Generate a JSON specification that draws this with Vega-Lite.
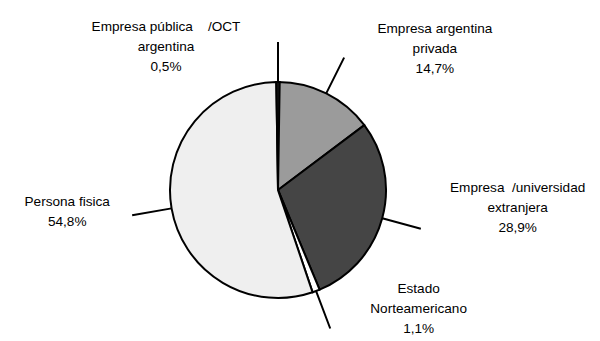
{
  "$schema": "https://vega.github.io/schema/vega-lite/v6.json",
  "width": 556,
  "height": 302,
  "autosize": "none",
  "padding": {"left": 0, "top": 39, "right": 44, "bottom": 0},
  "background": "white",
  "view": {"stroke": null},
  "config": {"text": {"font": "Liberation Sans", "fontSize": 13.6, "lineHeight": 20, "color": "black"}},
  "data": {
    "values": [
      {"category": "Empresa argentina privada", "pct": 14.7, "label": "Empresa argentina\nprivada\n14,7%"},
      {"category": "Empresa / universidad extranjera", "pct": 28.9, "label": "Empresa\u00a0\u00a0/universidad\nextranjera\n28,9%"},
      {"category": "Estado Norteamericano", "pct": 1.1, "label": "Estado\nNorteamericano\n1,1%"},
      {"category": "Persona fisica", "pct": 54.8, "label": "Persona fisica\n54,8%"},
      {"category": "Empresa pública / OCT argentina", "pct": 0.5, "label": "Empresa pública\u00a0\u00a0\u00a0\u00a0/OCT\nargentina\n0,5%"}
    ]
  },
  "transform": [
    {"stack": "pct", "groupby": [], "as": ["v0", "v1"]},
    {"fold": ["v0", "v1"], "as": ["k", "kv"]},
    {"aggregate": [{"op": "mean", "field": "kv", "as": "mid"}], "groupby": ["category", "pct", "label", "v0", "v1"]}
  ],
  "layer": [
    {
      "mark": {"type": "arc", "outerRadius": 108, "stroke": "black", "strokeWidth": 2},
      "encoding": {
        "theta": {"field": "v0", "type": "quantitative", "stack": null},
        "theta2": {"field": "v1"},
        "color": {
          "field": "category", "type": "nominal", "legend": null,
          "scale": {
            "domain": ["Empresa argentina privada", "Empresa / universidad extranjera", "Estado Norteamericano", "Persona fisica", "Empresa pública / OCT argentina"],
            "range": ["#9b9b9b", "#454545", "#ffffff", "#efefef", "#1a1a1a"]
          }
        }
      }
    },
    {
      "mark": {"type": "arc", "innerRadius": 108, "outerRadius": 148, "stroke": "black", "strokeWidth": 2, "fill": null},
      "encoding": {
        "theta": {"field": "mid", "type": "quantitative", "stack": null},
        "theta2": {"field": "mid"}
      }
    },
    {
      "transform": [{"filter": "datum.category == 'Empresa argentina privada'"}],
      "mark": {"type": "text", "radius": 152, "dx": 89, "dy": -25, "align": "center", "baseline": "middle", "lineBreak": "\n"},
      "encoding": {"theta": {"field": "mid", "type": "quantitative", "stack": null}, "text": {"field": "label"}}
    },
    {
      "transform": [{"filter": "datum.category == 'Empresa / universidad extranjera'"}],
      "mark": {"type": "text", "radius": 152, "dx": 93, "dy": -42, "align": "center", "baseline": "middle", "lineBreak": "\n"},
      "encoding": {"theta": {"field": "mid", "type": "quantitative", "stack": null}, "text": {"field": "label"}}
    },
    {
      "transform": [{"filter": "datum.category == 'Estado Norteamericano'"}],
      "mark": {"type": "text", "radius": 152, "dx": 87, "dy": -43, "align": "center", "baseline": "middle", "lineBreak": "\n"},
      "encoding": {"theta": {"field": "mid", "type": "quantitative", "stack": null}, "text": {"field": "label"}}
    },
    {
      "transform": [{"filter": "datum.category == 'Persona fisica'"}],
      "mark": {"type": "text", "radius": 152, "dx": -61, "dy": -14, "align": "center", "baseline": "middle", "lineBreak": "\n"},
      "encoding": {"theta": {"field": "mid", "type": "quantitative", "stack": null}, "text": {"field": "label"}}
    },
    {
      "transform": [{"filter": "datum.category == 'Empresa pública / OCT argentina'"}],
      "mark": {"type": "text", "radius": 152, "dx": -112, "dy": -11, "align": "center", "baseline": "middle", "lineBreak": "\n"},
      "encoding": {"theta": {"field": "mid", "type": "quantitative", "stack": null}, "text": {"field": "label"}}
    }
  ]
}
